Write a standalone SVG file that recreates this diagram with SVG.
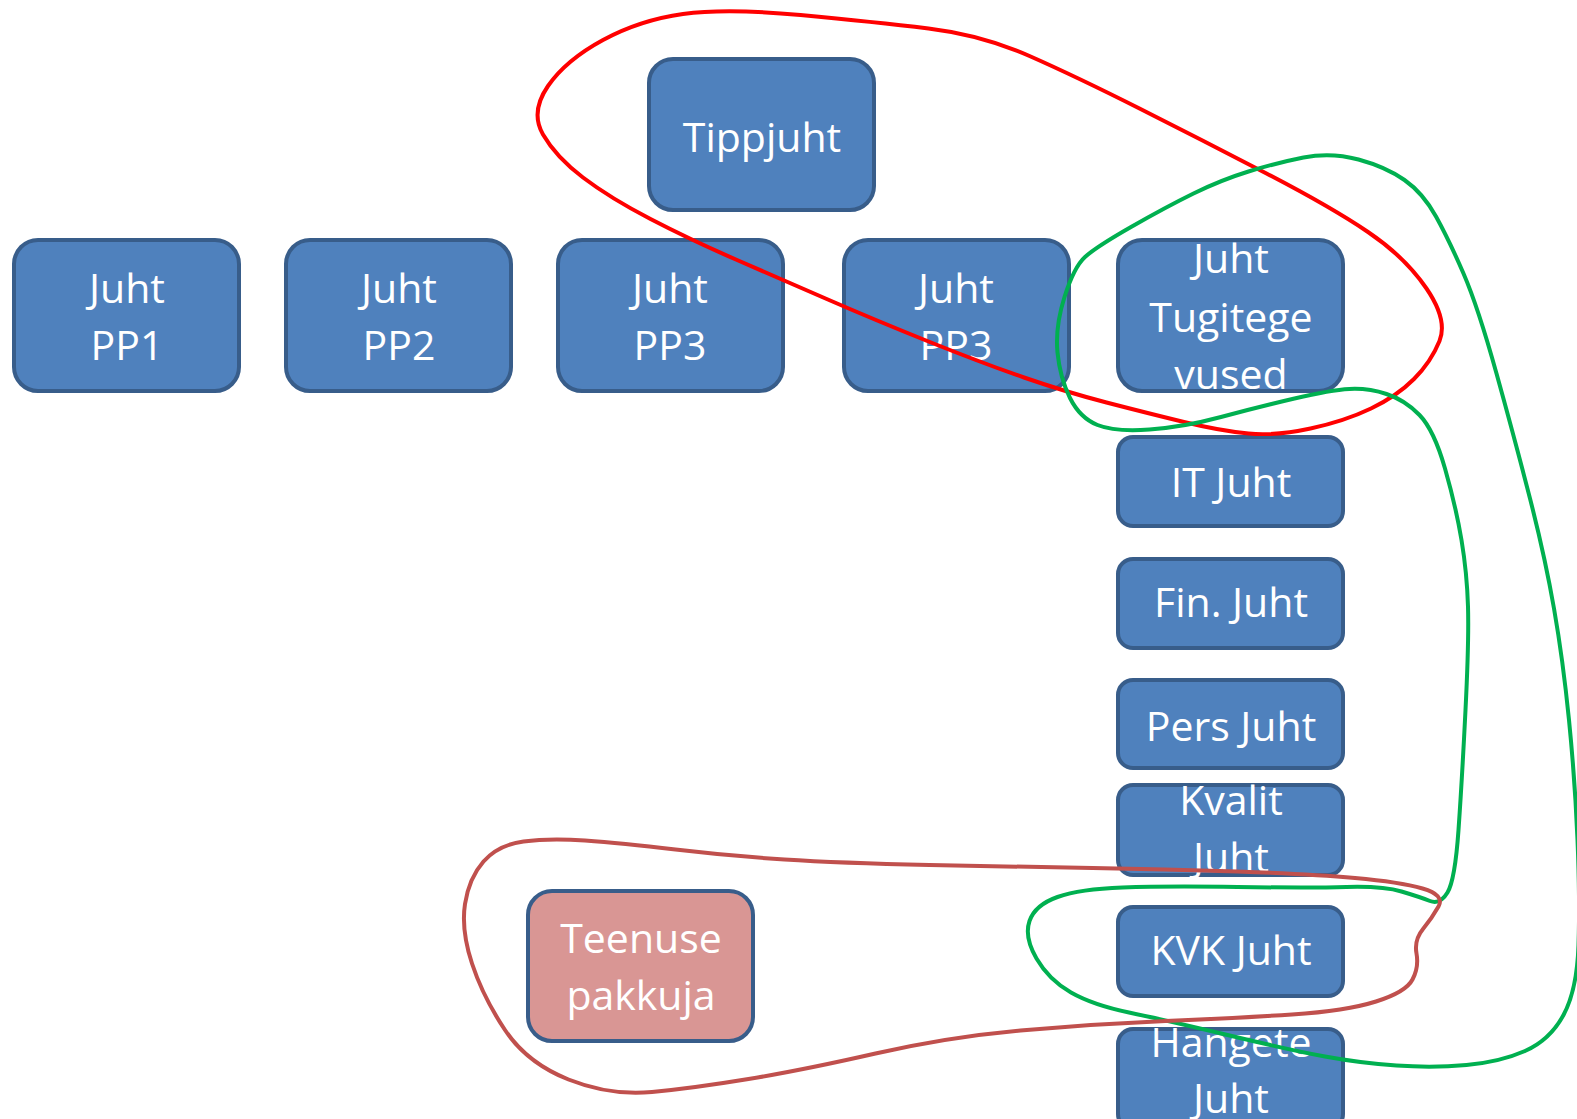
<svg xmlns="http://www.w3.org/2000/svg" width="1577" height="1119" viewBox="0 0 1577 1119">
<style>
.b{fill:#4f81bd;stroke:#385d8a;stroke-width:4}
.p{fill:#d99694;stroke:#385d8a;stroke-width:4}
.t{font-family:"Open Sans","Liberation Sans",sans-serif;font-size:41px;fill:#ffffff;text-anchor:middle}
.c{fill:none;stroke-width:4;stroke-linejoin:round}
</style>
<rect width="1577" height="1119" fill="#ffffff"/>
<g id="tippjuht"><rect class="b" x="649" y="59" width="225" height="151" rx="24"/><text class="t" x="762" y="152">Tippjuht</text></g>
<g id="pp1"><rect class="b" x="14" y="240" width="225" height="151" rx="24"/><text class="t" x="127" y="303">Juht</text><text class="t" x="127" y="360">PP1</text></g>
<g id="pp2"><rect class="b" x="286" y="240" width="225" height="151" rx="24"/><text class="t" x="399" y="303">Juht</text><text class="t" x="399" y="360">PP2</text></g>
<g id="pp3a"><rect class="b" x="558" y="240" width="225" height="151" rx="24"/><text class="t" x="670" y="303">Juht</text><text class="t" x="670" y="360">PP3</text></g>
<g id="pp3b"><rect class="b" x="844" y="240" width="225" height="151" rx="24"/><text class="t" x="956" y="303">Juht</text><text class="t" x="956" y="360">PP3</text></g>
<g id="tugitegevused"><rect class="b" x="1118" y="240" width="225" height="151" rx="24"/><text class="t" x="1231" y="273">Juht</text><text class="t" x="1231" y="332">Tugitege</text><text class="t" x="1231" y="389">vused</text></g>
<g id="it"><rect class="b" x="1118" y="437" width="225" height="89" rx="15"/><text class="t" x="1231" y="497">IT Juht</text></g>
<g id="fin"><rect class="b" x="1118" y="559" width="225" height="89" rx="15"/><text class="t" x="1231" y="617">Fin. Juht</text></g>
<g id="pers"><rect class="b" x="1118" y="680" width="225" height="88" rx="15"/><text class="t" x="1231" y="741">Pers Juht</text></g>
<g id="kvalit"><rect class="b" x="1118" y="785" width="225" height="90" rx="15"/><text class="t" x="1231" y="815">Kvalit</text><text class="t" x="1231" y="872">Juht</text></g>
<g id="kvk"><rect class="b" x="1118" y="907" width="225" height="89" rx="15"/><text class="t" x="1231" y="965">KVK Juht</text></g>
<g id="hangete"><rect class="b" x="1118" y="1029" width="225" height="100" rx="15"/><text class="t" x="1231" y="1057">Hangete</text><text class="t" x="1231" y="1113">Juht</text></g>
<g id="teenuse"><rect class="p" x="528" y="891" width="225" height="150" rx="24"/><text class="t" x="641" y="953">Teenuse</text><text class="t" x="641" y="1010">pakkuja</text></g>
<g id="connectors">
<path class="c" stroke="#ff0000" d="M 683,14 Q 726,8 800.5,15 Q 875,22 928.5,28.5 Q 982,35 1029.5,56 Q 1077,77 1139.5,108.5 Q 1202,140 1266.5,173.5 Q 1331,207 1368,232 Q 1405,257 1426.5,288.5 Q 1448,320 1439.5,341 Q 1431,362 1414,379 Q 1397,396 1371,408.5 Q 1345,421 1310.5,428.5 Q 1276,436 1248.5,433.5 Q 1221,431 1184,422 Q 1147,413 1106.5,402.5 Q 1066,392 1024,377.5 Q 982,363 928.5,341.5 Q 875,320 829,300 Q 783,280 737,260 Q 691,240 650.5,219 Q 610,198 583,177.5 Q 556,157 543,134.5 Q 530,112 548,86 Q 566,60 603,40 Q 640,20 683,14 Z"/>
<path class="c" stroke="#00b050" d="M 1303.5,157.5 Q 1331,152 1358.5,159.5 Q 1386,167 1404.5,180 Q 1423,193 1436,216.5 Q 1449,240 1463.5,273.5 Q 1478,307 1496.5,373.5 Q 1515,440 1530,498.5 Q 1545,557 1554,608.5 Q 1563,660 1569,720 Q 1575,780 1577.5,840 Q 1580,900 1578.5,945 Q 1577,990 1563.5,1015 Q 1550,1040 1525,1051 Q 1500,1062 1466.5,1065 Q 1433,1068 1396.5,1065.5 Q 1360,1063 1325,1056.5 Q 1290,1050 1227.5,1035 Q 1165,1020 1129,1012.5 Q 1093,1005 1071,992.5 Q 1049,980 1036.5,958.5 Q 1024,937 1029.5,921 Q 1035,905 1057.5,897 Q 1080,889 1122.5,887.5 Q 1165,886 1237.5,887 Q 1310,888 1346.5,887 Q 1383,886 1401.5,891.5 Q 1420,897 1430,901 Q 1440,905 1447.5,892.5 Q 1455,880 1458.5,830 Q 1462,780 1465.5,710 Q 1469,640 1468,606.5 Q 1467,573 1461.5,540 Q 1456,507 1445,468.5 Q 1434,430 1419.5,415 Q 1405,400 1386.5,394 Q 1368,388 1349.5,389 Q 1331,390 1294.5,398.5 Q 1258,407 1221,417 Q 1184,427 1149.5,429.5 Q 1115,432 1097.5,425 Q 1080,418 1070,398 Q 1060,378 1057.5,352.5 Q 1055,327 1064.5,297 Q 1074,267 1085,257 Q 1096,247 1131,227 Q 1166,207 1193.5,193.5 Q 1221,180 1248.5,171.5 Q 1276,163 1303.5,157.5 Z"/>
<path class="c" stroke="#c0504d" stroke-width="4.5" d="M 523.5,841.5 Q 549,838 585,840.5 Q 621,843 675.5,849.5 Q 730,856 784.5,859.5 Q 839,863 929.5,865 Q 1020,867 1092.5,868 Q 1165,869 1237.5,871.5 Q 1310,874 1355,878 Q 1400,882 1422.5,888.5 Q 1445,895 1438.5,906.5 Q 1432,918 1423,929 Q 1414,940 1416.5,953.5 Q 1419,967 1412.5,979.5 Q 1406,992 1376,1001.5 Q 1346,1011 1292,1014.5 Q 1238,1018 1165.5,1021 Q 1093,1024 1020.5,1030.5 Q 948,1037 875.5,1053.5 Q 803,1070 748.5,1079 Q 694,1088 652,1092 Q 610,1096 568.5,1079.5 Q 527,1063 505,1030 Q 483,997 472,963.5 Q 461,930 465,904 Q 469,878 483.5,861.5 Q 498,845 523.5,841.5 Z"/>
</g>
</svg>
